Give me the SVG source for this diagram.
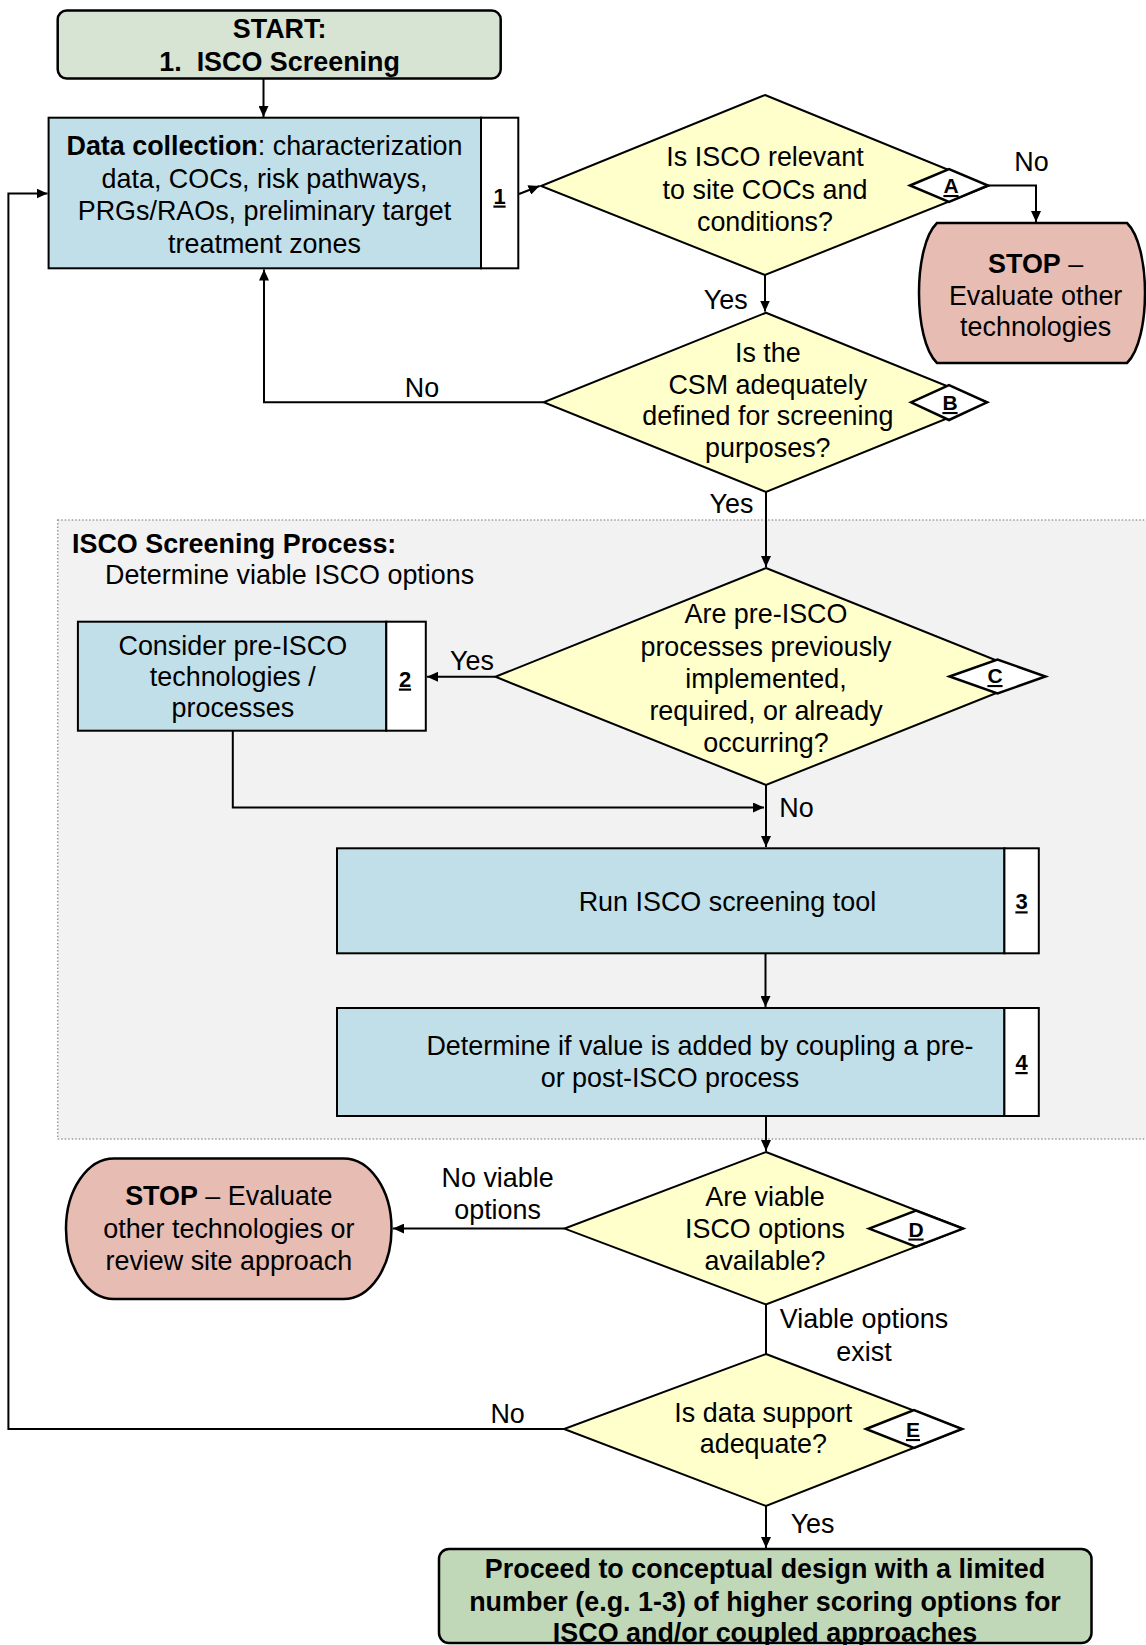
<svg xmlns="http://www.w3.org/2000/svg" width="1146" height="1645" viewBox="0 0 1146 1645">
<style>
text{font-family:"Liberation Sans",Arial,sans-serif;font-size:26.9px;fill:#000}
.c{text-anchor:middle}
.b{font-weight:bold}
.tab{font-weight:bold;font-size:22px;text-anchor:middle;text-decoration:underline}
.lab{font-weight:bold;font-size:21px;text-anchor:middle;text-decoration:underline}
.proc{fill:#c1dfe8;stroke:#000;stroke-width:2}
.tabbox{fill:#fff;stroke:#000;stroke-width:2}
.dec{fill:#ffffcc;stroke:#000;stroke-width:2}
.small{fill:#fff;stroke:#000;stroke-width:2.5}
.stop{fill:#e6bcb3;stroke:#000;stroke-width:2.5}
.conn{fill:none;stroke:#000;stroke-width:2}
</style>
<defs>
<marker id="ah" markerUnits="userSpaceOnUse" markerWidth="12" markerHeight="10" refX="11" refY="5" orient="auto">
<path d="M0,0 L11,5 L0,10 Z" fill="#000"/>
</marker>
</defs>
<rect width="1146" height="1645" fill="#fff"/>

<g id="panel">
<rect x="57.7" y="520" width="1100" height="619" fill="#f2f2f2" stroke="#9a9a9a" stroke-width="1.5" stroke-dasharray="1.5 2"/>
<text x="72" y="552.5" class="b">ISCO Screening Process:</text>
<text x="105" y="583.5">Determine viable ISCO options</text>
</g>

<g id="connectors">
<path class="conn" d="M263.5,79 V117" marker-end="url(#ah)"/>
<path class="conn" d="M519,194 L539.5,186" marker-end="url(#ah)"/>
<path class="conn" d="M988,185.5 H1036 V222" marker-end="url(#ah)"/>
<path class="conn" d="M765,275 V311.5" marker-end="url(#ah)"/>
<path class="conn" d="M543.6,402.3 H264 V269.5" marker-end="url(#ah)"/>
<path class="conn" d="M766,492 V567" marker-end="url(#ah)"/>
<path class="conn" d="M495.4,676.8 H427" marker-end="url(#ah)"/>
<path class="conn" d="M232.8,730.7 V807.5 H764" marker-end="url(#ah)"/>
<path class="conn" d="M766,785 V847" marker-end="url(#ah)"/>
<path class="conn" d="M765.5,953 V1007" marker-end="url(#ah)"/>
<path class="conn" d="M766,1116 V1151" marker-end="url(#ah)"/>
<path class="conn" d="M564.6,1228.6 H393" marker-end="url(#ah)"/>
<path class="conn" d="M766,1304.5 V1354"/>
<path class="conn" d="M564,1429 H8.4 V193.5 H47.5" marker-end="url(#ah)"/>
<path class="conn" d="M766,1506 V1548" marker-end="url(#ah)"/>
<text x="1031.5" y="170.5" class="c">No</text>
<text x="725.8" y="309" class="c">Yes</text>
<text x="422" y="396.7" class="c">No</text>
<text x="731.5" y="513" class="c">Yes</text>
<text x="472" y="670" class="c">Yes</text>
<text x="796.5" y="816.7" class="c">No</text>
<text x="497.6" y="1187" class="c">No viable</text>
<text x="497.6" y="1219" class="c">options</text>
<text x="864" y="1328" class="c">Viable options</text>
<text x="864" y="1360.5" class="c">exist</text>
<text x="507.6" y="1422.8" class="c">No</text>
<text x="812.6" y="1532.5" class="c">Yes</text>
</g>

<g id="start">
<rect x="57.7" y="10.5" width="443" height="68" rx="9" fill="#d7e4d4" stroke="#000" stroke-width="2.5"/>
<text x="279.6" y="37.5" class="c b">START:</text>
<text x="279.6" y="70.7" class="c b" xml:space="preserve">1.  ISCO Screening</text>
</g>

<g id="step1">
<rect x="48.6" y="117.7" width="432.4" height="150.6" class="proc"/>
<rect x="481" y="117.7" width="37.3" height="150.6" class="tabbox"/>
<text x="264.5" y="155" class="c"><tspan class="b">Data collection</tspan>: characterization</text>
<text x="264.5" y="187.5" class="c">data, COCs, risk pathways,</text>
<text x="264.5" y="220" class="c">PRGs/RAOs, preliminary target</text>
<text x="264.5" y="252.5" class="c">treatment zones</text>
<text x="499.5" y="203.5" class="tab">1</text>
</g>

<g id="decisionA">
<polygon points="765,95 988,186 765,275 541,186" class="dec"/>
<polygon points="910,185.5 949,169 988,185.5 949,202" class="small"/>
<text x="951" y="193" class="lab">A</text>
<text x="765" y="166" class="c">Is ISCO relevant</text>
<text x="765" y="198.5" class="c">to site COCs and</text>
<text x="765" y="231" class="c">conditions?</text>
</g>

<g id="stop1">
<path d="M937,223 H1127 C1151,246 1151,340 1127,363 H937 C913,340 913,246 937,223 Z" class="stop"/>
<text x="1035.6" y="272.7" class="c"><tspan class="b">STOP</tspan> –</text>
<text x="1035.6" y="304.5" class="c">Evaluate other</text>
<text x="1035.6" y="335.5" class="c">technologies</text>
</g>

<g id="decisionB">
<polygon points="766,312.7 987,402.3 766,492 543.6,402.3" class="dec"/>
<polygon points="911,402.3 949,385 987,402.3 949,420" class="small"/>
<text x="950" y="410" class="lab">B</text>
<text x="767.8" y="361.5" class="c">Is the</text>
<text x="767.8" y="393.5" class="c">CSM adequately</text>
<text x="767.8" y="425" class="c">defined for screening</text>
<text x="767.8" y="456.5" class="c">purposes?</text>
</g>

<g id="decisionC">
<polygon points="766,568 1037,676.8 766,785 495.4,676.8" class="dec"/>
<polygon points="949.5,676.5 997.5,659.5 1045.5,676.5 997.5,693.5" class="small"/>
<text x="995" y="683" class="lab">C</text>
<text x="766" y="623.3" class="c">Are pre-ISCO</text>
<text x="766" y="655.7" class="c">processes previously</text>
<text x="766" y="687.7" class="c">implemented,</text>
<text x="766" y="720" class="c">required, or already</text>
<text x="766" y="751.7" class="c">occurring?</text>
</g>

<g id="step2">
<rect x="77.9" y="621.7" width="308.4" height="109" class="proc"/>
<rect x="386.3" y="621.7" width="39.5" height="109" class="tabbox"/>
<text x="232.8" y="655" class="c">Consider pre-ISCO</text>
<text x="232.8" y="686" class="c">technologies /</text>
<text x="232.8" y="717" class="c">processes</text>
<text x="405" y="686.5" class="tab">2</text>
</g>

<g id="step3">
<rect x="337" y="848.3" width="667.4" height="105" class="proc"/>
<rect x="1004.4" y="848.3" width="34.4" height="105" class="tabbox"/>
<text x="727.4" y="910.5" class="c">Run ISCO screening tool</text>
<text x="1021.5" y="909.3" class="tab">3</text>
</g>

<g id="step4">
<rect x="337" y="1008" width="667.4" height="108" class="proc"/>
<rect x="1004.4" y="1008" width="34.4" height="108" class="tabbox"/>
<text x="700" y="1055" class="c">Determine if value is added by coupling a pre-</text>
<text x="670" y="1086.7" class="c">or post-ISCO process</text>
<text x="1021.5" y="1070" class="tab">4</text>
</g>

<g id="decisionD">
<polygon points="766,1152 963,1228.6 766,1304.5 564.6,1228.6" class="dec"/>
<polygon points="869,1228.6 916,1210.5 963,1228.6 916,1246.7" class="small"/>
<text x="916" y="1236.5" class="lab">D</text>
<text x="765" y="1206" class="c">Are viable</text>
<text x="765" y="1238.3" class="c">ISCO options</text>
<text x="765" y="1270.3" class="c">available?</text>
</g>

<g id="stop2">
<rect x="66" y="1158.5" width="325.5" height="140.5" rx="48" ry="70" class="stop"/>
<text x="228.8" y="1205" class="c"><tspan class="b">STOP</tspan> – Evaluate</text>
<text x="228.8" y="1237.5" class="c">other technologies or</text>
<text x="228.8" y="1270" class="c">review site approach</text>
</g>

<g id="decisionE">
<polygon points="766,1354 962,1429 766,1506 564,1429" class="dec"/>
<polygon points="866,1429 914,1410 962,1429 914,1448" class="small"/>
<text x="913" y="1437" class="lab">E</text>
<text x="763.3" y="1421.5" class="c">Is data support</text>
<text x="763.3" y="1452.8" class="c">adequate?</text>
</g>

<g id="final">
<rect x="439" y="1549" width="652.5" height="94" rx="10" fill="#c0d8b8" stroke="#000" stroke-width="2.5"/>
<text x="765" y="1578" class="c b">Proceed to conceptual design with a limited</text>
<text x="765" y="1610.5" class="c b">number (e.g. 1-3) of higher scoring options for</text>
<text x="765" y="1642" class="c b">ISCO and/or coupled approaches</text>
</g>
</svg>
